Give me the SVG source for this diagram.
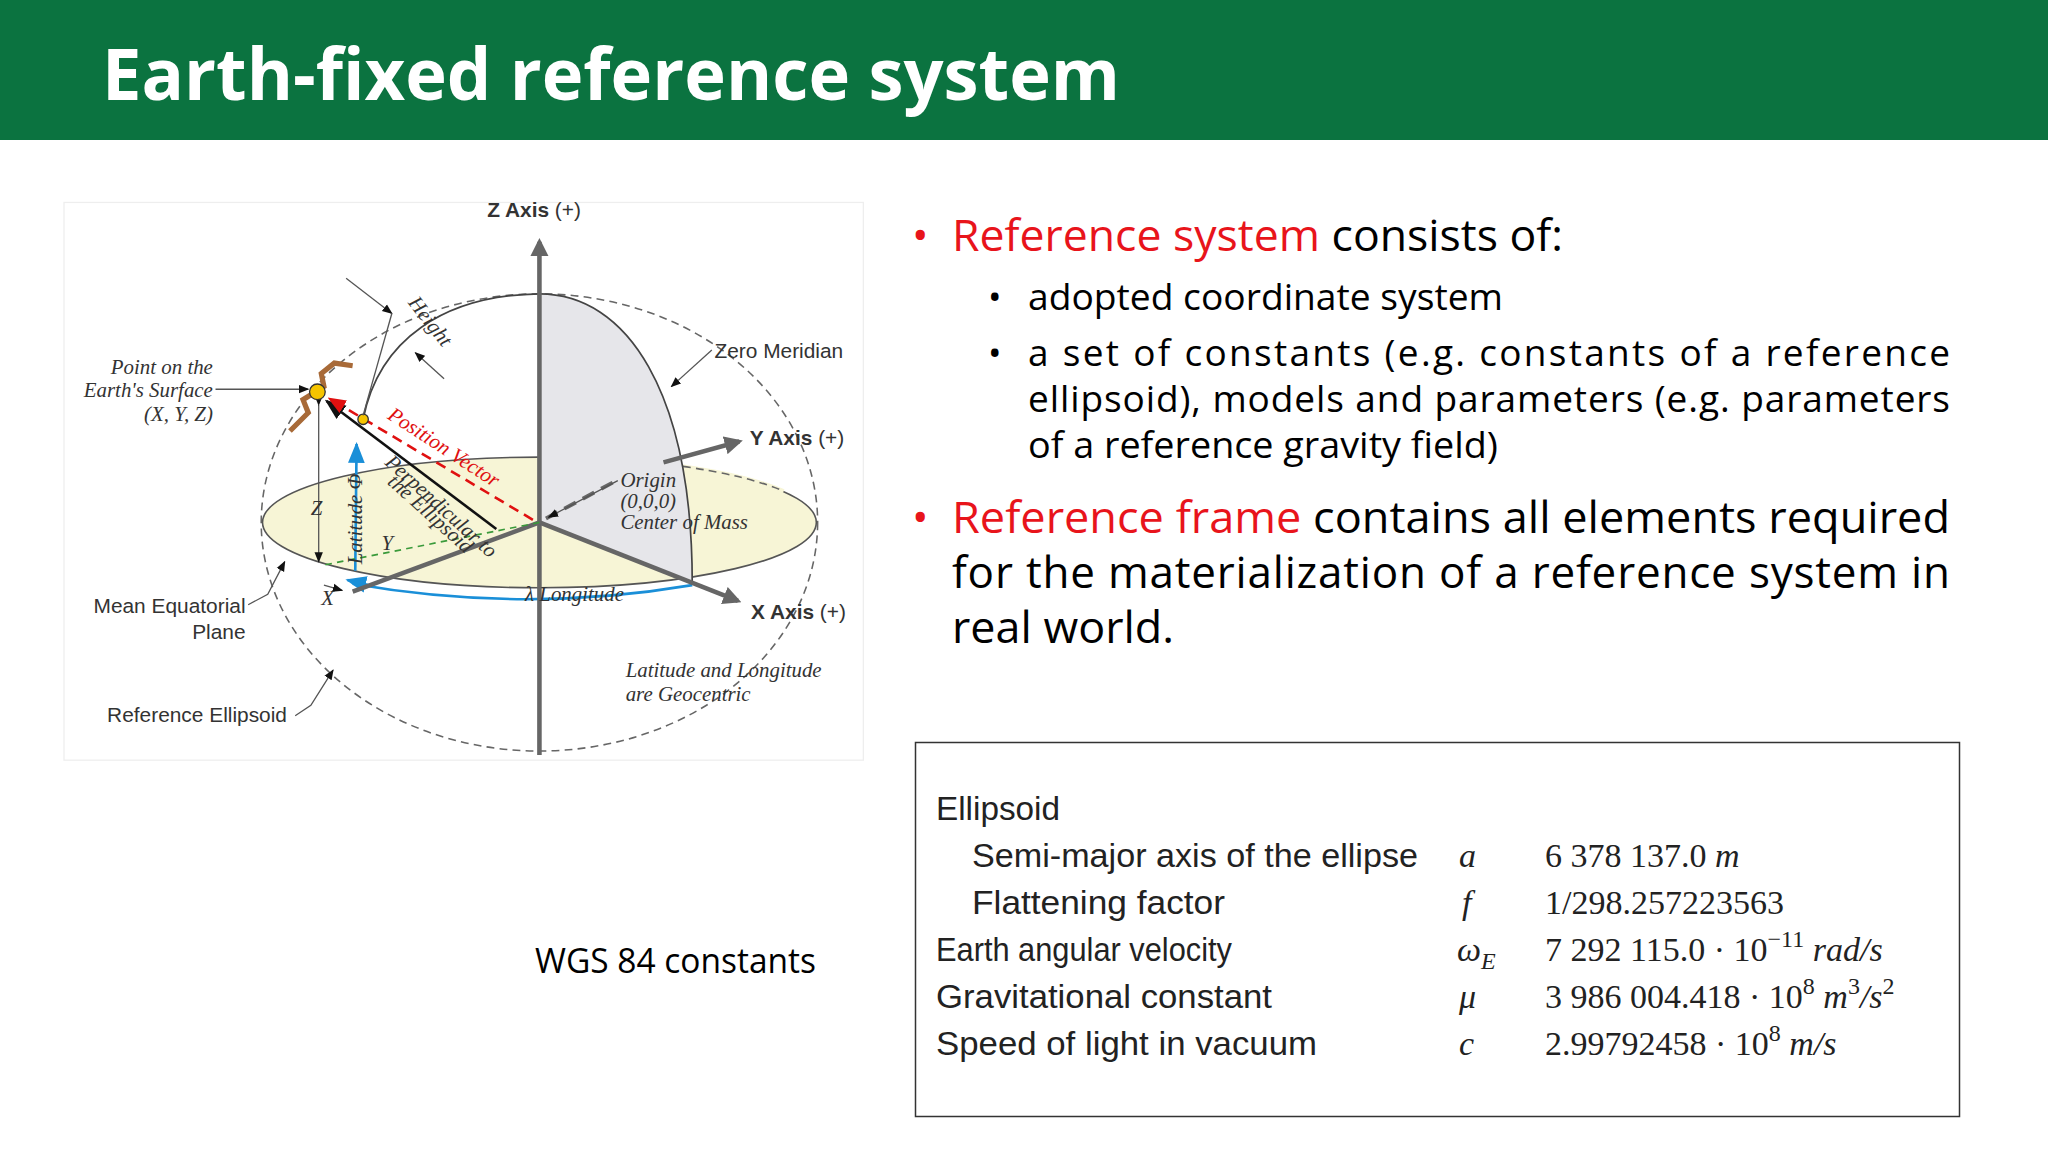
<svg xmlns="http://www.w3.org/2000/svg" width="2048" height="1152" viewBox="0 0 2048 1152">
<style>
.t{font-family:"Open Sans","Liberation Sans",sans-serif;fill:#000}
.r{fill:#e8141b}
.d{font-family:"Liberation Sans",sans-serif;fill:#333;font-size:16px}
.di{font-family:"Liberation Serif",serif;font-style:italic;fill:#333;font-size:16px}
.ax{stroke:#666;stroke-width:3.5;fill:none}
.ln{stroke:#555;stroke-width:1;fill:none}
.ds{stroke:#666;stroke-width:1.2;stroke-dasharray:6,4;fill:none}
</style>
<defs>
<marker id="ag" viewBox="0 0 10 10" refX="8" refY="5" markerWidth="4" markerHeight="4" orient="auto"><path d="M0,0L10,5L0,10z" fill="#666"/></marker>
<marker id="ab" viewBox="0 0 10 10" refX="9" refY="5" markerWidth="8" markerHeight="8" orient="auto"><path d="M0,1L10,5L0,9z" fill="#111"/></marker>
<marker id="ar" viewBox="0 0 10 10" refX="9" refY="5" markerWidth="7" markerHeight="7" orient="auto"><path d="M0,1L10,5L0,9z" fill="#e01010"/></marker>
<marker id="au" viewBox="0 0 10 10" refX="9" refY="5" markerWidth="8" markerHeight="8" orient="auto"><path d="M0,1L10,5L0,9z" fill="#1a8fd8"/></marker>
</defs>
<rect x="0" y="0" width="2048" height="1152" fill="#fff"/>
<g id="header">
<rect x="0" y="0" width="2048" height="140" fill="#0b7340"/>
<text x="102" y="100" font-family="'Open Sans','Liberation Sans',sans-serif" font-weight="bold" font-size="72" fill="#fff" textLength="1018" lengthAdjust="spacingAndGlyphs">Earth-fixed reference system</text>
</g>
<g id="diagram" transform="scale(1.30612)">
<rect x="49" y="155" width="612" height="427" fill="#fff" stroke="#eee"/>
<ellipse cx="413" cy="400" rx="213" ry="175" class="ds"/>
<ellipse cx="413" cy="400" rx="212" ry="50" fill="#f7f5d6" stroke="#555" stroke-width="1.2"/>
<path d="M413,350 A212,50 0 0 1 600,376" stroke="#f7f5d6" stroke-width="3" fill="none"/>
<path d="M413,350 A212,50 0 0 1 600,376" class="ds"/>
<path d="M413,225 C480,225 530,300 530,447 L413,400 Z" fill="#e6e6ea" stroke="none"/>
<path d="M413,225 C480,225 530,300 530,447" stroke="#444" stroke-width="1.3" fill="none"/>
<path d="M278,321 C290,260 340,226 413,225" stroke="#444" stroke-width="1.3" fill="none"/>
<path d="M270,447 Q400,470 530,448" stroke="#1a8fd8" stroke-width="2" fill="none"/>
<path d="M272,437 L273,340" stroke="#1a8fd8" stroke-width="2" fill="none" marker-end="url(#au)"/>
<path d="M282,448 L266,444" stroke="#1a8fd8" stroke-width="2" marker-end="url(#au)"/>
<line x1="413" y1="578" x2="413" y2="185" class="ax" marker-end="url(#ag)"/>
<line x1="413" y1="400" x2="565" y2="460" class="ax" marker-end="url(#ag)"/>
<line x1="413" y1="400" x2="270" y2="453" class="ax"/>
<line x1="418" y1="397" x2="470" y2="369" stroke="#666" stroke-width="3" stroke-dasharray="10,6"/>
<line x1="508" y1="354" x2="566" y2="338" class="ax" marker-end="url(#ag)"/>
<line x1="413" y1="400" x2="246" y2="433" stroke="#3a9a3a" stroke-width="1.3" stroke-dasharray="5,4"/>
<line x1="244" y1="310" x2="244" y2="430" class="ln" marker-start="url(#ab)" marker-end="url(#ab)"/>
<line x1="380" y1="405" x2="250" y2="307" stroke="#111" stroke-width="2" marker-end="url(#ab)"/>
<line x1="408" y1="398" x2="252" y2="305" stroke="#e01010" stroke-width="2" stroke-dasharray="8,5" marker-end="url(#ar)"/>
<path d="M222,330 L236,316 L232,306 L248,296 L246,286 L256,278 L270,280" stroke="#a86a38" stroke-width="4" fill="none"/>
<circle cx="243" cy="300" r="6" fill="#f5c400" stroke="#333"/>
<circle cx="278" cy="321" r="4" fill="#f5c400" stroke="#333"/>
<line x1="265" y1="213" x2="300" y2="240" class="ln" marker-end="url(#ab)"/>
<line x1="300" y1="240" x2="278" y2="318" class="ln"/>
<line x1="340" y1="290" x2="318" y2="270" class="ln" marker-end="url(#ab)"/>
<line x1="165" y1="298" x2="236" y2="298" class="ln" marker-end="url(#ab)"/>
<line x1="545" y1="268" x2="514" y2="296" class="ln" marker-end="url(#ab)"/>
<line x1="473" y1="368" x2="420" y2="396" class="ln" marker-end="url(#ab)"/>
<polyline points="190,463 205,455 218,430" class="ln" marker-end="url(#ab)"/>
<polyline points="226,548 238,540 255,513" class="ln" marker-end="url(#ab)"/>
<line x1="248" y1="448" x2="262" y2="452" class="ln" marker-end="url(#ab)"/>
<text x="373" y="166" class="d" font-weight="bold">Z Axis <tspan font-weight="normal">(+)</tspan></text>
<text x="547" y="274" class="d">Zero Meridian</text>
<text x="574" y="341" class="d" font-weight="bold">Y Axis <tspan font-weight="normal">(+)</tspan></text>
<text x="575" y="474" class="d" font-weight="bold">X Axis <tspan font-weight="normal">(+)</tspan></text>
<text x="475" y="373" class="di">Origin</text>
<text x="475" y="389" class="di">(0,0,0)</text>
<text x="475" y="405" class="di">Center of Mass</text>
<text x="163" y="286" class="di" text-anchor="end">Point on the</text>
<text x="163" y="304" class="di" text-anchor="end">Earth's Surface</text>
<text x="163" y="322" class="di" text-anchor="end">(X, Y, Z)</text>
<text x="188" y="469" class="d" text-anchor="end">Mean Equatorial</text>
<text x="188" y="489" class="d" text-anchor="end">Plane</text>
<text x="82" y="553" class="d">Reference Ellipsoid</text>
<text x="479" y="518" class="di">Latitude and Longitude</text>
<text x="479" y="537" class="di">are Geocentric</text>
<text x="402" y="460" class="di" font-size="15">λ Longitude</text>
<text x="238" y="394" class="di">Z</text>
<text x="292" y="421" class="di" font-size="15">Y</text>
<text x="246" y="463" class="di" font-size="15">X</text>
<text transform="translate(277,432) rotate(-90)" class="di" font-size="15">Latitude Φ</text>
<text transform="translate(312,232) rotate(52)" class="di" font-size="15">Height</text>
<text transform="translate(296,320) rotate(33)" class="di" style="fill:#e01010">Position Vector</text>
<text transform="translate(294,355) rotate(42)" class="di" font-size="12">Perpendicular to</text>
<text transform="translate(296,370) rotate(42)" class="di" font-size="12">the Ellipsoid</text>
</g>
<g id="bullets" class="t">
<text x="912" y="251" font-size="44" style="fill:#e8141b">•</text>
<text x="952" y="251" font-size="44" textLength="611" lengthAdjust="spacingAndGlyphs"><tspan style="fill:#e8141b">Reference system</tspan> consists of:</text>
<text x="988" y="310" font-size="36">•</text>
<text x="1028" y="310" font-size="37" textLength="475" lengthAdjust="spacingAndGlyphs">adopted coordinate system</text>
<text x="988" y="366" font-size="36">•</text>
<text x="1028" y="366" font-size="37" textLength="922" lengthAdjust="spacing">a set of constants (e.g. constants of a reference</text>
<text x="1028" y="412" font-size="37" textLength="922" lengthAdjust="spacing">ellipsoid), models and parameters (e.g. parameters</text>
<text x="1028" y="458" font-size="37" textLength="470" lengthAdjust="spacingAndGlyphs">of a reference gravity field)</text>
<text x="912" y="533" font-size="44" style="fill:#e8141b">•</text>
<text x="952" y="533" font-size="44" textLength="998" lengthAdjust="spacingAndGlyphs"><tspan style="fill:#e8141b">Reference frame</tspan> contains all elements required</text>
<text x="952" y="588" font-size="44" textLength="998" lengthAdjust="spacing">for the materialization of a reference system in</text>
<text x="952" y="643" font-size="44" textLength="222" lengthAdjust="spacingAndGlyphs">real world.</text>
<text x="535" y="973" font-size="34" textLength="281" lengthAdjust="spacingAndGlyphs">WGS 84 constants</text>
</g>
<g id="table">
<rect x="915.500" y="742.500" width="1044" height="374" fill="#fff" stroke="#333" stroke-width="1.5"/>
<g font-family="'Liberation Sans',sans-serif" font-size="34" fill="#222">
<text x="936" y="820" textLength="124" lengthAdjust="spacingAndGlyphs">Ellipsoid</text>
<text x="972" y="867" textLength="446" lengthAdjust="spacingAndGlyphs">Semi-major axis of the ellipse</text>
<text x="972" y="914" textLength="253" lengthAdjust="spacingAndGlyphs">Flattening factor</text>
<text x="936" y="961" textLength="296" lengthAdjust="spacingAndGlyphs">Earth angular velocity</text>
<text x="936" y="1008" textLength="336" lengthAdjust="spacingAndGlyphs">Gravitational constant</text>
<text x="936" y="1055" textLength="381" lengthAdjust="spacingAndGlyphs">Speed of light in vacuum</text>
</g>
<g font-family="'Liberation Serif',serif" font-size="34" fill="#222">
<text x="1459" y="867" font-style="italic">a</text>
<text x="1462" y="914" font-style="italic">f</text>
<text x="1457" y="961" font-style="italic">ω<tspan font-size="24" dy="8">E</tspan></text>
<text x="1459" y="1008" font-style="italic">μ</text>
<text x="1459" y="1055" font-style="italic">c</text>
<text x="1545" y="867">6 378 137.0 <tspan font-style="italic">m</tspan></text>
<text x="1545" y="914">1/298.257223563</text>
<text x="1545" y="961">7 292 115.0 · 10<tspan font-size="24" dy="-14">−11</tspan><tspan dy="14" font-style="italic"> rad/s</tspan></text>
<text x="1545" y="1008">3 986 004.418 · 10<tspan font-size="24" dy="-14">8</tspan><tspan dy="14" font-style="italic"> m</tspan><tspan font-size="24" dy="-14">3</tspan><tspan dy="14" font-style="italic">/s</tspan><tspan font-size="24" dy="-14">2</tspan></text>
<text x="1545" y="1055">2.99792458 · 10<tspan font-size="24" dy="-14">8</tspan><tspan dy="14" font-style="italic"> m/s</tspan></text>
</g>
</g>
</svg>
